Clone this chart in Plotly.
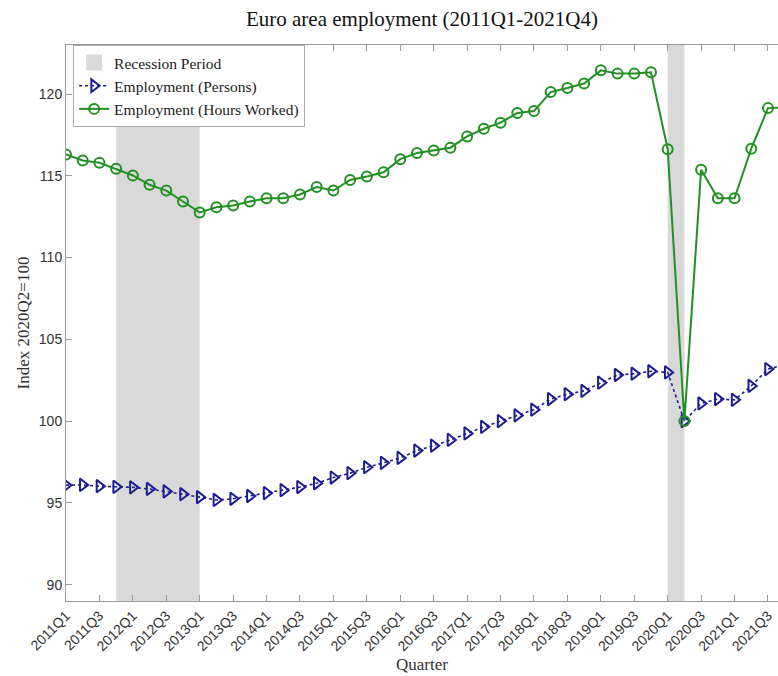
import plotly.graph_objects as go

quarters = [f"{y}Q{q}" for y in range(2011, 2022) for q in range(1, 5)]

persons = [96.08, 96.10, 96.02, 95.98, 95.95, 95.85, 95.70, 95.53, 95.35, 95.18,
           95.25, 95.42, 95.60, 95.78, 95.97, 96.20, 96.55, 96.82, 97.18, 97.45,
           97.75, 98.20, 98.50, 98.85, 99.25, 99.65, 100.00, 100.35, 100.70, 101.35,
           101.65, 101.85, 102.35, 102.82, 102.90, 103.05, 102.98, 100.00, 101.08, 101.35,
           101.30, 102.15, 103.18, 103.45]

hours = [116.31, 115.94, 115.80, 115.43, 115.02, 114.45, 114.10, 113.43, 112.76, 113.08,
         113.18, 113.43, 113.63, 113.63, 113.86, 114.31, 114.10, 114.75, 114.96, 115.22,
         116.02, 116.39, 116.55, 116.72, 117.41, 117.88, 118.25, 118.84, 118.96, 120.12,
         120.37, 120.64, 121.45, 121.25, 121.25, 121.33, 116.63, 100.00, 115.37, 113.63,
         113.63, 116.66, 119.14, 119.18]

recessions = [("2011Q4", "2013Q1"), ("2020Q1", "2020Q2")]
tick_labels = quarters[0::2]

axis_col = "#9a9a9a"
serif = "Liberation Serif, DejaVu Serif, serif"
sans = "Liberation Sans, Arial, sans-serif"

fig = go.Figure()

for a, b in recessions:
    fig.add_shape(type="rect", xref="x", yref="paper",
                  x0=quarters.index(a), x1=quarters.index(b), y0=0, y1=1,
                  fillcolor="#d9d9d9", line_width=0, layer="below")

fig.add_trace(go.Scatter(x=[None], y=[None], mode="markers", name="Recession Period",
                         marker=dict(symbol="square", size=17, color="#d9d9d9")))

fig.add_trace(go.Scatter(x=quarters, y=persons, mode="lines+markers",
                         name="Employment (Persons)",
                         line=dict(color="#1c1c90", width=1.6, dash="dot"),
                         marker=dict(symbol="triangle-right-open", size=11,
                                     line=dict(color="#1c1c90", width=2))))

fig.add_trace(go.Scatter(x=quarters, y=hours, mode="lines+markers",
                         name="Employment (Hours Worked)",
                         line=dict(color="#229022", width=2),
                         marker=dict(symbol="circle-open", size=10,
                                     line=dict(color="#229022", width=2))))

fig.update_layout(
    width=778, height=676,
    margin=dict(l=66, r=0, t=45, b=75),
    paper_bgcolor="white", plot_bgcolor="white",
    title=dict(text="Euro area employment (2011Q1-2021Q4)", x=0.5, xref="paper",
               xanchor="center", y=0.973, yanchor="middle",
               font=dict(family=serif, size=21, color="#111")),
    showlegend=True,
    legend=dict(x=0.01, y=1.0, xanchor="left", yanchor="top",
                bgcolor="white", bordercolor="#aaaaaa", borderwidth=1,
                font=dict(family=serif, size=15.5, color="#222"),
                tracegroupgap=0, itemwidth=30),
    xaxis=dict(type="category", categoryorder="array", categoryarray=quarters,
               range=[0, 42.6], tickmode="array",
               tickvals=tick_labels, ticktext=tick_labels,
               tickangle=-45, ticks="inside", ticklen=6, tickcolor=axis_col,
               showline=True, linecolor=axis_col, linewidth=1, mirror="ticks",
               showgrid=False, zeroline=False,
               tickfont=dict(family=sans, size=14, color="#333"),
               title=dict(text="Quarter", font=dict(family=serif, size=17, color="#333"),
                          standoff=4)),
    yaxis=dict(range=[89, 123], tickvals=[90, 95, 100, 105, 110, 115, 120],
               ticks="inside", ticklen=6, tickcolor=axis_col,
               showline=True, linecolor=axis_col, linewidth=1, mirror=False,
               showgrid=False, zeroline=False,
               tickfont=dict(family=sans, size=14, color="#333"),
               title=dict(text="Index 2020Q2=100", font=dict(family=serif, size=17, color="#333"),
                          standoff=4)),
)

fig.write_html("out.html")
